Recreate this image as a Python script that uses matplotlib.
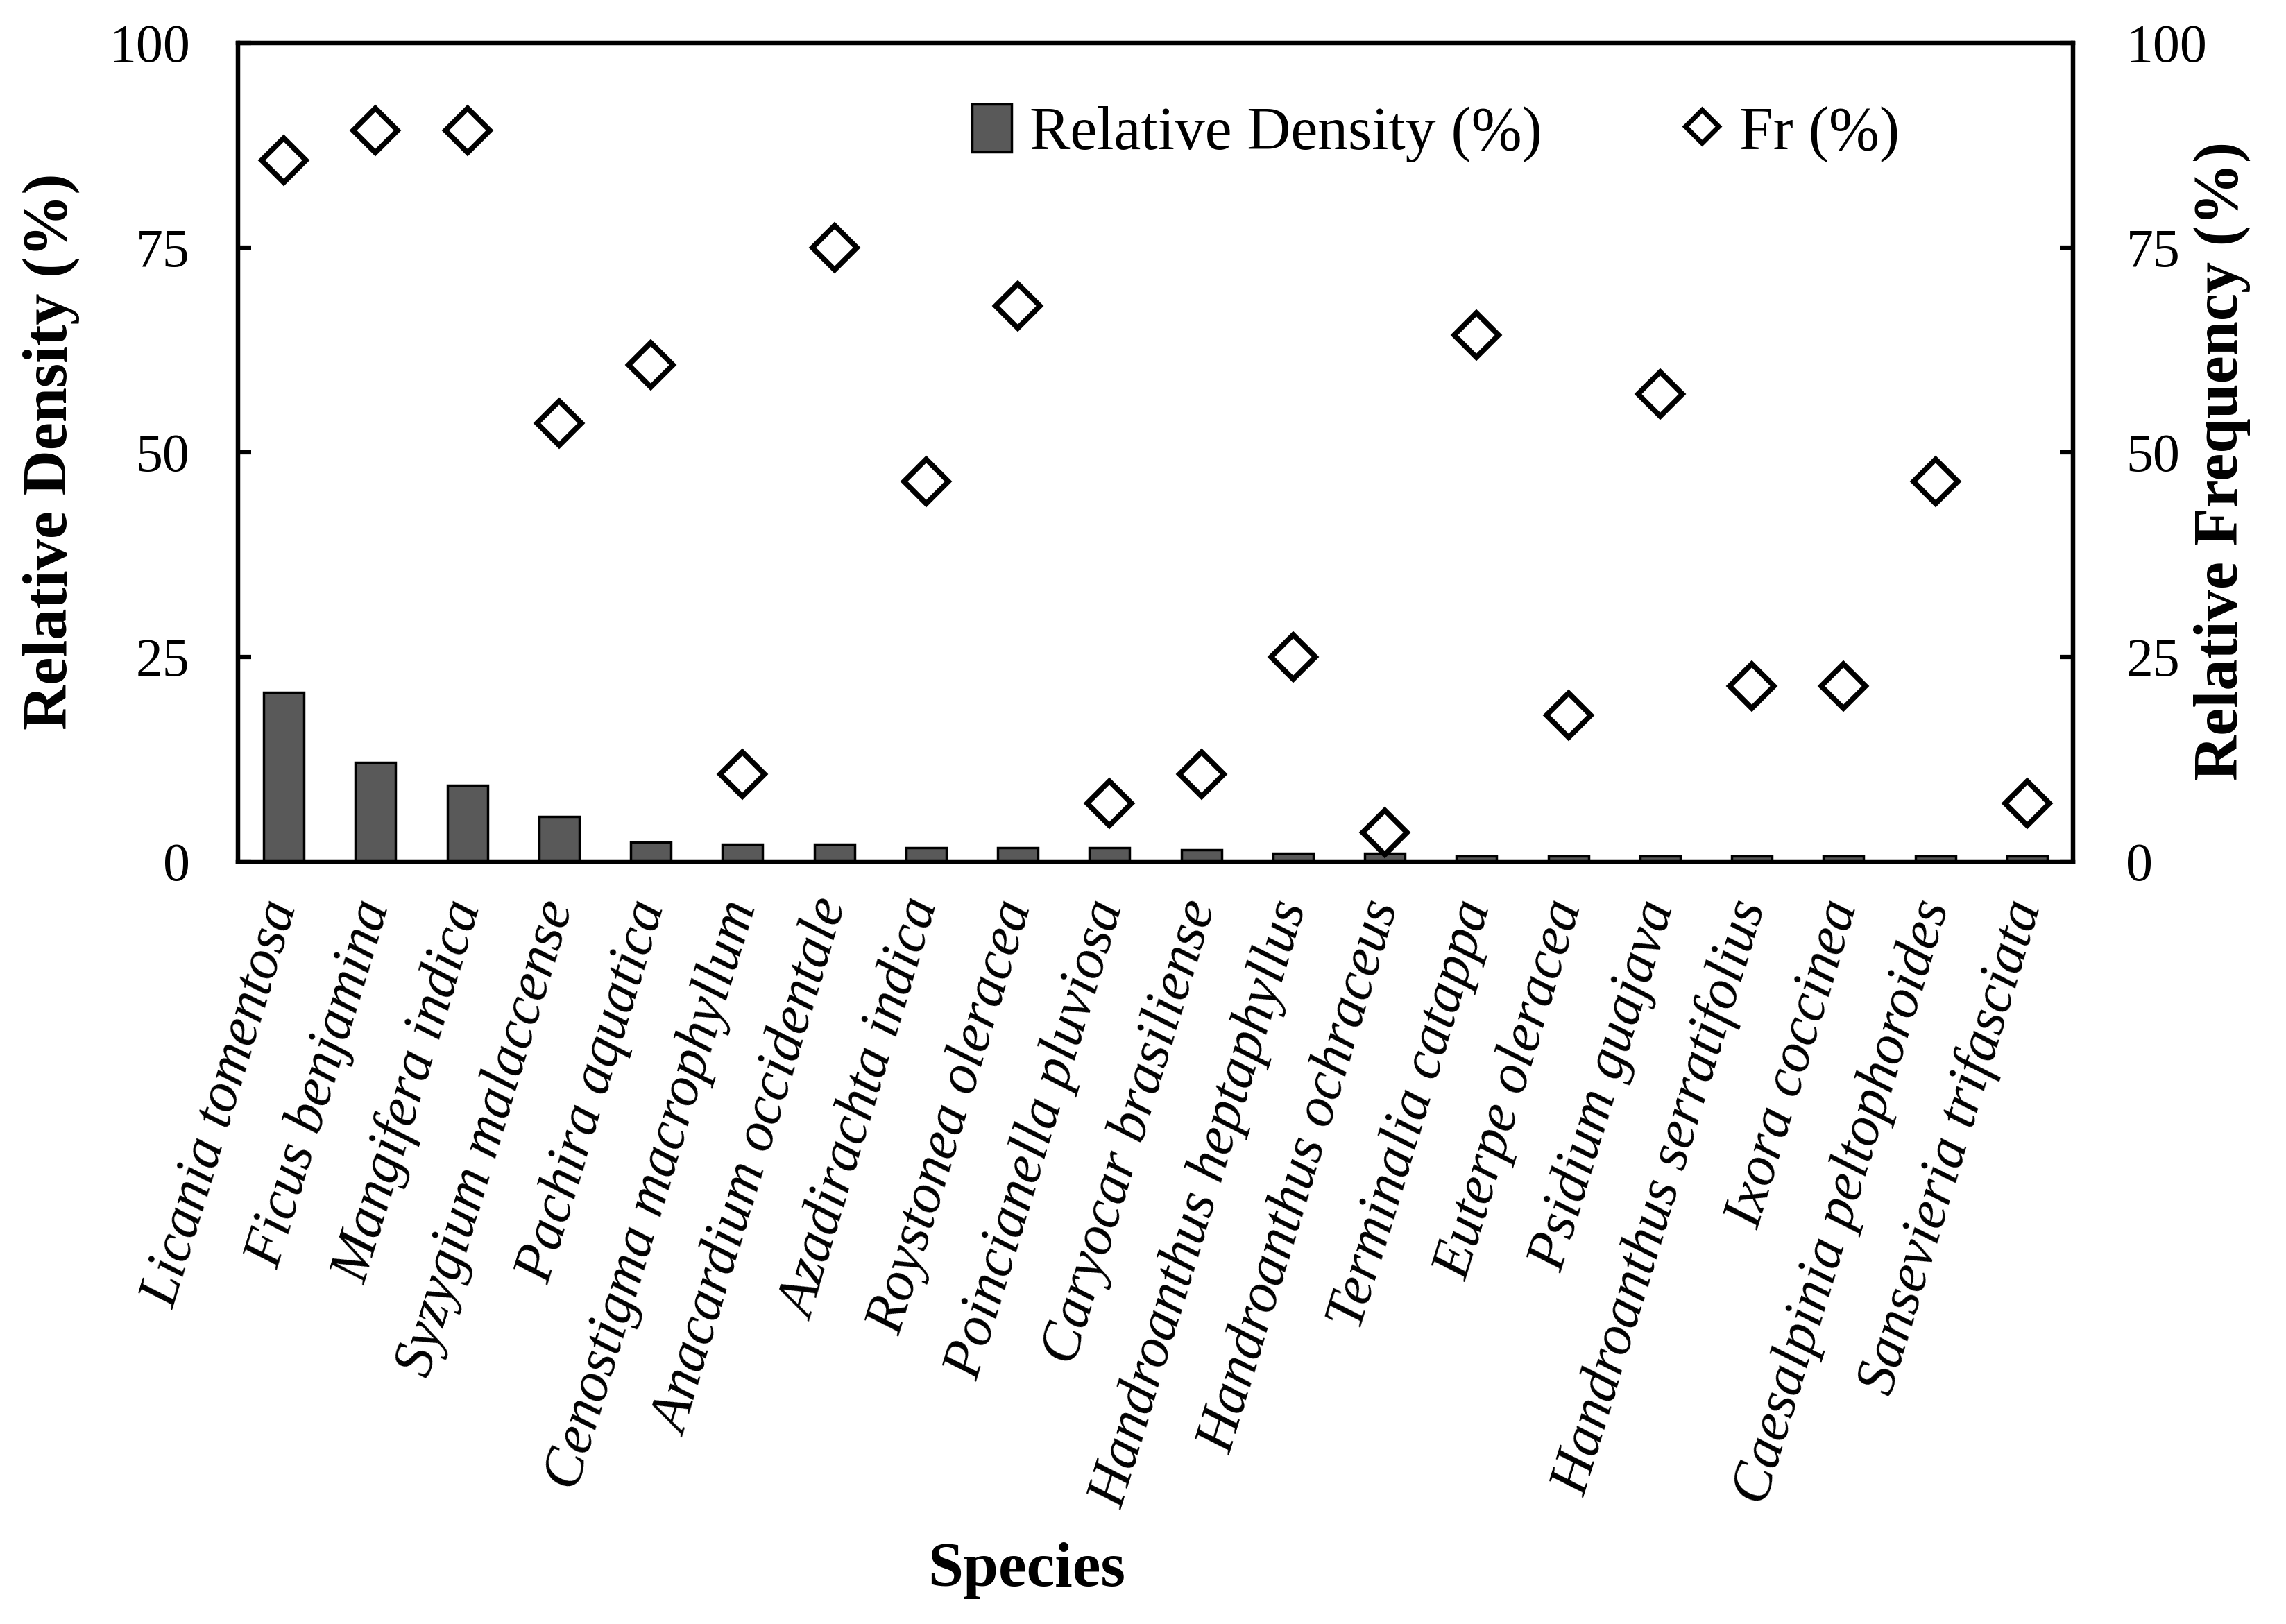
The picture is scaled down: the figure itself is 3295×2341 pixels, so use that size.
import numpy as np
import matplotlib.pyplot as plt
from matplotlib.patches import Patch
from matplotlib.lines import Line2D

plt.rcParams['font.family'] = ['Liberation Serif', 'DejaVu Serif']

species = ["Licania tomentosa", "Ficus benjamina", "Mangifera indica",
           "Syzygium malaccense", "Pachira aquatica", "Cenostigma macrophyllum",
           "Anacardium occidentale", "Azadirachta indica", "Roystonea oleracea",
           "Poincianella pluviosa", "Caryocar brasiliense", "Handroanthus heptaphyllus",
           "Handroanthus ochraceus", "Terminalia catappa", "Euterpe oleracea",
           "Psidium guajava", "Handroanthus serratifolius", "Ixora coccinea",
           "Caesalpinia peltophoroides", "Sansevieria trifasciata"]

rel_density = [20.7, 12.1, 9.3, 5.5, 2.4, 2.1, 2.1, 1.7, 1.7, 1.7,
               1.4, 1.0, 1.0, 0.7, 0.7, 0.7, 0.7, 0.7, 0.7, 0.7]

rel_freq = [85.7, 89.3, 89.3, 53.6, 60.7, 10.7, 75.0, 46.4, 67.9, 7.1,
            10.7, 25.0, 3.6, 64.3, 17.9, 57.1, 21.4, 21.4, 46.4, 7.1]

W, H = 3295, 2341
fig = plt.figure(figsize=(W / 100, H / 100), dpi=100)
ax = fig.add_axes([343 / W, 1 - 1242 / H, 2645 / W, 1180 / H])
ax2 = ax.twinx()

x = np.arange(len(species))
ax.bar(x, rel_density, width=0.44, color='#595959', edgecolor='black', linewidth=2.5, zorder=2)
ax2.plot(x, rel_freq, linestyle='none', marker='D', markersize=33,
         markerfacecolor='none', markeredgecolor='black', markeredgewidth=5.5)

for a in (ax, ax2):
    a.set_xlim(-0.5, len(species) - 0.5)
    a.set_ylim(0, 100)
    a.set_yticks([0, 25, 50, 75, 100])
    for s in a.spines.values():
        s.set_linewidth(4.5)
ax.tick_params(axis='y', direction='in', length=14, width=4.5, labelsize=56, pad=50)
ax2.tick_params(axis='y', direction='in', length=14, width=4.5, labelsize=56, pad=55)
ax.tick_params(axis='x', length=0, pad=42)
ax.set_xticks(x)
ax.set_xticklabels(species, rotation=73, ha='right', va='center',
                   rotation_mode='anchor', fontsize=59, style='italic')

fig.text(74 / W, 1 - 651 / H, 'Relative Density (%)', rotation=90, ha='center', va='center',
         fontsize=65, fontweight='bold')
fig.text(3203 / W, 1 - 664 / H, 'Relative Frequency (%)', rotation=90, ha='center', va='center',
         fontsize=65, fontweight='bold')
fig.text(1480 / W, 1 - 2264 / H, 'Species', ha='center', va='center',
         fontsize=66, fontweight='bold')

handles = [Patch(facecolor='#595959', edgecolor='black', linewidth=2.5),
           Line2D([], [], linestyle='none', marker='D', markersize=24,
                  markerfacecolor='none', markeredgecolor='black', markeredgewidth=5)]
ax2.legend(handles, ['Relative Density (%)', 'Fr (%)'], loc='center left',
           bbox_to_anchor=(0.40, 0.89), ncol=2, frameon=False, fontsize=63,
           handlelength=0.65, handleheight=0.85, handletextpad=0.3, columnspacing=2.3,
           borderpad=0, borderaxespad=0)

fig.savefig('out.png', dpi=100)
